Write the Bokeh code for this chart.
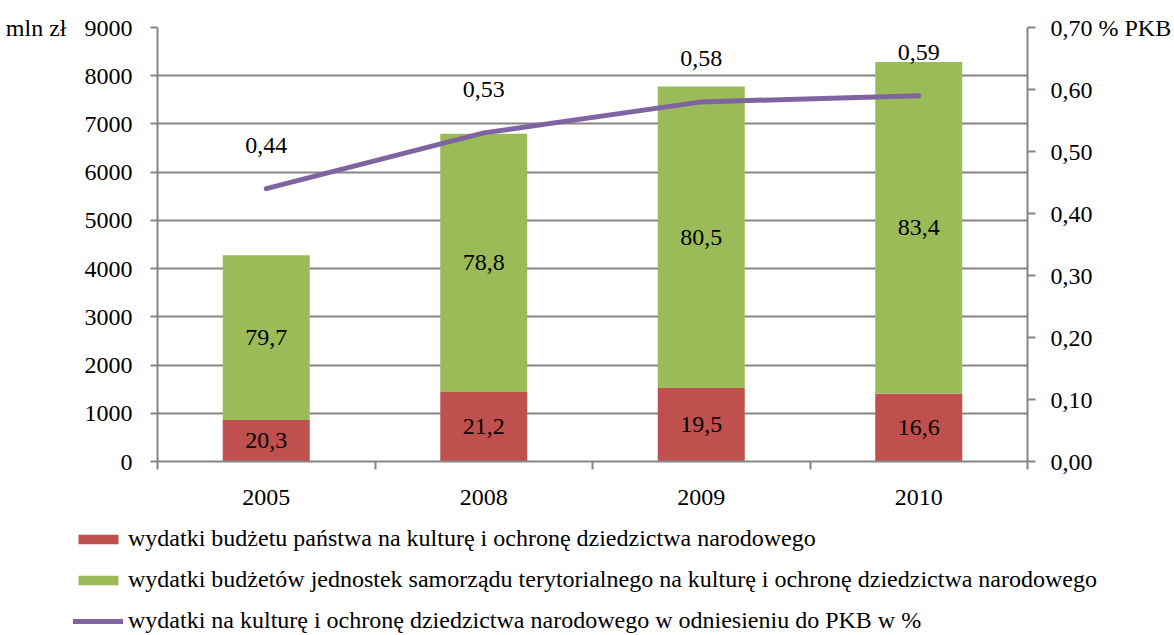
from bokeh.plotting import figure
from bokeh.models import (ColumnDataSource, Range1d, LinearAxis, FixedTicker, Legend,
                          LegendItem, CustomJSTickFormatter)
from bokeh.embed import file_html
from bokeh.resources import INLINE
from bokeh.core.properties import value

# ---------------- data ----------------
years = ["2005", "2008", "2009", "2010"]
state_budget = [860, 1440, 1525, 1405]        # mln zł
local_budget = [3415, 5355, 6250, 6880]       # mln zł
state_share = [20.3, 21.2, 19.5, 16.6]        # %
local_share = [79.7, 78.8, 80.5, 83.4]        # %
pct_gdp = [0.44, 0.53, 0.58, 0.59]            # % PKB
left_ticks = [0, 1000, 2000, 3000, 4000, 5000, 6000, 7000, 8000, 9000]
right_ticks = [0.0, 0.1, 0.2, 0.3, 0.4, 0.5, 0.6, 0.7]
left_unit = "mln zł"
right_unit = "% PKB"
legend_labels = [
    "wydatki budżetu państwa na kulturę i ochronę dziedzictwa narodowego",
    "wydatki budżetów jednostek samorządu terytorialnego na kulturę i ochronę dziedzictwa narodowego",
    "wydatki na kulturę i ochronę dziedzictwa narodowego w odniesieniu do PKB w %",
]

RED = "#C0504D"
GREEN = "#9BBB59"
PURPLE = "#8064A2"
GRID = "#868686"
FONT = "Liberation Serif"
FS = "24px"

y_max = left_ticks[-1]
p_max = right_ticks[-1]
n = len(years)
centers = [i + 0.5 for i in range(n)]          # category slot centres
bounds = list(range(n + 1))                     # category slot boundaries

src = ColumnDataSource(dict(
    x=centers,
    year=years,
    state=state_budget,
    local=local_budget,
    state_mid=[a / 2 for a in state_budget],
    local_mid=[a + b / 2 for a, b in zip(state_budget, local_budget)],
    state_lbl=[f"{v:.1f}".replace(".", ",") for v in state_share],
    local_lbl=[f"{v:.1f}".replace(".", ",") for v in local_share],
    pct=pct_gdp,
    pct_lbl=[f"{v:.2f}".replace(".", ",") for v in pct_gdp],
))

p = figure(x_range=Range1d(0, n), y_range=Range1d(0, y_max),
           width=1174, height=520,
           output_backend="svg", toolbar_location=None,
           min_border_left=157, min_border_right=145,
           min_border_top=27, min_border_bottom=59)
p.outline_line_color = None
p.xgrid.visible = False
p.ygrid.grid_line_color = GRID
p.ygrid.grid_line_width = 2
p.ygrid.ticker = FixedTicker(ticks=left_ticks)

p.extra_y_ranges = {"pct": Range1d(0, p_max)}

# left axis
ya = p.yaxis[0]
ya.ticker = FixedTicker(ticks=left_ticks)
ya.formatter = CustomJSTickFormatter(args=dict(top=y_max, unit=left_unit), code="""
    return tick >= top ? unit + '\\u00a0\\u00a0\\u00a0' + tick : '' + tick;""")
ya.axis_line_color = GRID
ya.axis_line_width = 2
ya.major_tick_line_color = GRID
ya.major_tick_line_width = 2
ya.major_tick_out = 7
ya.major_tick_in = 0
ya.minor_tick_line_color = None
ya.major_label_standoff = 18
ya.major_label_text_font = FONT
ya.major_label_text_font_size = FS
ya.major_label_text_color = "black"

# right axis
ra = LinearAxis(y_range_name="pct", ticker=FixedTicker(ticks=right_ticks),
                formatter=CustomJSTickFormatter(args=dict(top=p_max, unit=right_unit), code="""
                    var s = tick.toFixed(2).replace('.', ',');
                    return tick > top - 0.005 ? s + ' ' + unit : s;"""))
ra.axis_line_color = GRID
ra.axis_line_width = 2
ra.major_tick_line_color = GRID
ra.major_tick_line_width = 2
ra.major_tick_out = 8
ra.major_tick_in = 0
ra.minor_tick_line_color = None
ra.major_label_standoff = 15
ra.major_label_text_font = FONT
ra.major_label_text_font_size = FS
ra.major_label_text_color = "black"
p.add_layout(ra, "right")

# bottom axis: labels at slot centres, ticks at slot boundaries
xa = p.xaxis[0]
xa.ticker = FixedTicker(ticks=centers, minor_ticks=bounds)
xa.formatter = CustomJSTickFormatter(args=dict(years=years),
                                     code="return years[Math.floor(tick)];")
xa.axis_line_color = GRID
xa.axis_line_width = 2
xa.major_tick_line_color = None
xa.major_tick_out = 0
xa.major_tick_in = 0
xa.minor_tick_line_color = GRID
xa.minor_tick_line_width = 2
xa.minor_tick_out = 8
xa.minor_tick_in = 0
xa.major_label_standoff = 20
xa.major_label_text_font = FONT
xa.major_label_text_font_size = FS
xa.major_label_text_color = "black"

# bars
bars = p.vbar_stack(["state", "local"], x="x", width=0.4, color=[RED, GREEN],
                    line_color=None, source=src)

# bar share labels
for col_y, col_t in (("state_mid", "state_lbl"), ("local_mid", "local_lbl")):
    p.text(x="x", y=col_y, text=col_t, source=src, text_align="center",
           text_baseline="middle", text_font=value(FONT), text_font_size=FS,
           text_color="black")

# line
ln = p.line(x="x", y="pct", y_range_name="pct", source=src, line_width=5,
            line_color=PURPLE, line_cap="round", line_join="round")
p.text(x="x", y="pct", text="pct_lbl", y_range_name="pct", source=src,
       y_offset=-43, text_align="center", text_baseline="middle",
       text_font=value(FONT), text_font_size=FS, text_color="black")

# ---------------- legend strip (separate root, below the chart) ----------------
lg = figure(width=1174, height=115, output_backend="svg", toolbar_location=None,
            x_axis_location=None, y_axis_location=None, min_border=0,
            x_range=Range1d(0, 1), y_range=Range1d(0, 1))
lg.outline_line_color = None
lg.grid.visible = False
proxy = ColumnDataSource(dict(x=[float("nan")], top=[float("nan")], y=[float("nan")]))
r_state = lg.vbar(x="x", top="top", width=0.4, color=RED, line_color=None, source=proxy)
r_local = lg.vbar(x="x", top="top", width=0.4, color=GREEN, line_color=None, source=proxy)
r_line = lg.line(x="x", y="y", line_width=5, line_color=PURPLE, line_cap="round",
                 source=proxy)

legend = Legend(items=[LegendItem(label=legend_labels[0], renderers=[r_state]),
                       LegendItem(label=legend_labels[1], renderers=[r_local]),
                       LegendItem(label=legend_labels[2], renderers=[r_line])],
                location=(73, 1), orientation="vertical",
                glyph_width=50, glyph_height=12, label_height=26, spacing=14,
                label_standoff=5, padding=0, margin=0,
                border_line_color=None, background_fill_alpha=0,
                label_text_font=FONT, label_text_font_size=FS,
                label_text_color="black", label_text_baseline="middle")
lg.add_layout(legend, "center")

open("out.html", "w").write(file_html((p, lg), INLINE))
